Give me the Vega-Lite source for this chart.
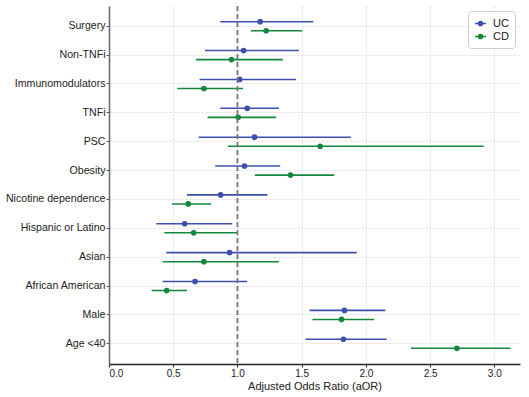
{
  "$schema": "https://vega.github.io/schema/vega-lite/v6.json",
  "autosize": "none",
  "width": 411,
  "height": 358,
  "padding": {"left": 109, "top": 6, "right": 9, "bottom": 33},
  "background": "white",
  "config": {
    "font": "Liberation Sans",
    "view": {"stroke": null},
    "axis": {"labelFont": "Liberation Sans", "titleFont": "Liberation Sans", "labelColor": "#222", "titleColor": "#222"}
  },
  "data": {
    "values": [
      {"factor": "Surgery", "group": "UC", "or": 1.177, "lo": 0.866, "hi": 1.59},
      {"factor": "Surgery", "group": "CD", "or": 1.224, "lo": 1.105, "hi": 1.504},
      {"factor": "Non-TNFi", "group": "UC", "or": 1.048, "lo": 0.747, "hi": 1.478},
      {"factor": "Non-TNFi", "group": "CD", "or": 0.954, "lo": 0.677, "hi": 1.354},
      {"factor": "Immunomodulators", "group": "UC", "or": 1.017, "lo": 0.705, "hi": 1.455},
      {"factor": "Immunomodulators", "group": "CD", "or": 0.739, "lo": 0.532, "hi": 1.043},
      {"factor": "TNFi", "group": "UC", "or": 1.076, "lo": 0.866, "hi": 1.323},
      {"factor": "TNFi", "group": "CD", "or": 1.006, "lo": 0.768, "hi": 1.302},
      {"factor": "PSC", "group": "UC", "or": 1.133, "lo": 0.698, "hi": 1.883},
      {"factor": "PSC", "group": "CD", "or": 1.644, "lo": 0.926, "hi": 2.917},
      {"factor": "Obesity", "group": "UC", "or": 1.055, "lo": 0.827, "hi": 1.333},
      {"factor": "Obesity", "group": "CD", "or": 1.413, "lo": 1.136, "hi": 1.753},
      {"factor": "Nicotine dependence", "group": "UC", "or": 0.869, "lo": 0.607, "hi": 1.234},
      {"factor": "Nicotine dependence", "group": "CD", "or": 0.617, "lo": 0.491, "hi": 0.794},
      {"factor": "Hispanic or Latino", "group": "UC", "or": 0.589, "lo": 0.369, "hi": 0.96},
      {"factor": "Hispanic or Latino", "group": "CD", "or": 0.659, "lo": 0.431, "hi": 0.996},
      {"factor": "Asian", "group": "UC", "or": 0.939, "lo": 0.446, "hi": 1.929},
      {"factor": "Asian", "group": "CD", "or": 0.739, "lo": 0.418, "hi": 1.323},
      {"factor": "African American", "group": "UC", "or": 0.67, "lo": 0.418, "hi": 1.074},
      {"factor": "African American", "group": "CD", "or": 0.449, "lo": 0.332, "hi": 0.607},
      {"factor": "Male", "group": "UC", "or": 1.833, "lo": 1.561, "hi": 2.152},
      {"factor": "Male", "group": "CD", "or": 1.81, "lo": 1.584, "hi": 2.064},
      {"factor": "Age <40", "group": "UC", "or": 1.825, "lo": 1.53, "hi": 2.162},
      {"factor": "Age <40", "group": "CD", "or": 2.709, "lo": 2.351, "hi": 3.127}
    ]
  },
  "encoding": {
    "y": {
      "field": "factor",
      "type": "nominal",
      "sort": null,
      "scale": {"paddingInner": 0, "paddingOuter": 0.2},
      "axis": {
        "title": null,
        "bandPosition": 0.5,
        "labelFontSize": 10.6,
        "labelPadding": 1,
        "tickSize": 3,
        "tickColor": "#555",
        "domainColor": "#666",
        "domainWidth": 1.5,
        "grid": true,
        "gridColor": "#d4d4d4",
        "gridDash": [2, 2],
        "gridWidth": 0.8
      }
    },
    "yOffset": {
      "field": "group",
      "type": "nominal",
      "sort": ["UC", "CD"],
      "scale": {"paddingInner": 0, "paddingOuter": 0.6}
    },
    "color": {
      "field": "group",
      "type": "nominal",
      "sort": ["UC", "CD"],
      "scale": {"domain": ["UC", "CD"], "range": ["#3d4fae", "#14873c"]},
      "legend": {
        "title": null,
        "orient": "top-right",
        "offset": 5,
        "fillColor": "white",
        "strokeColor": "#cccccc",
        "cornerRadius": 3,
        "padding": 6,
        "labelFontSize": 11,
        "labelColor": "#222",
        "labelOffset": 6,
        "rowPadding": 1,
        "symbolType": "M-1,0L1,0M0.375,0A0.375,0.375,0,1,1,-0.375,0A0.375,0.375,0,1,1,0.375,0Z",
        "symbolSize": 121,
        "symbolStrokeWidth": 1.5,
        "encode": {
          "symbols": {
            "update": {
              "stroke": {"scale": "color", "field": "value"},
              "fill": {"scale": "color", "field": "value"},
              "opacity": {"value": 1}
            }
          }
        }
      }
    }
  },
  "layer": [
    {
      "mark": {"type": "rule", "strokeWidth": 1.6},
      "encoding": {
        "x": {
          "field": "lo",
          "type": "quantitative",
          "scale": {"domain": [0, 3.2], "nice": false, "zero": false},
          "axis": {
            "title": "Adjusted Odds Ratio (aOR)",
            "titleFontSize": 11,
            "titleFontWeight": "normal",
            "titlePadding": 2,
            "values": [0, 0.5, 1, 1.5, 2, 2.5, 3],
            "format": ".1f",
            "labelFontSize": 10,
            "labelPadding": 1,
            "tickSize": 3,
            "tickColor": "#222",
            "domainColor": "#222",
            "domainWidth": 1.5,
            "grid": true,
            "gridColor": "#d4d4d4",
            "gridDash": [2, 2],
            "gridWidth": 0.8
          }
        },
        "x2": {"field": "hi"}
      }
    },
    {
      "mark": {"type": "point", "filled": true, "opacity": 1, "size": 32},
      "encoding": {
        "x": {"field": "or", "type": "quantitative"}
      }
    },
    {
      "data": {"values": [{"ref": 1}]},
      "mark": {"type": "rule", "color": "#777777", "strokeDash": [5, 3], "strokeWidth": 1.8},
      "encoding": {
        "x": {"field": "ref", "type": "quantitative"},
        "y": null,
        "yOffset": null,
        "color": null
      }
    }
  ]
}
